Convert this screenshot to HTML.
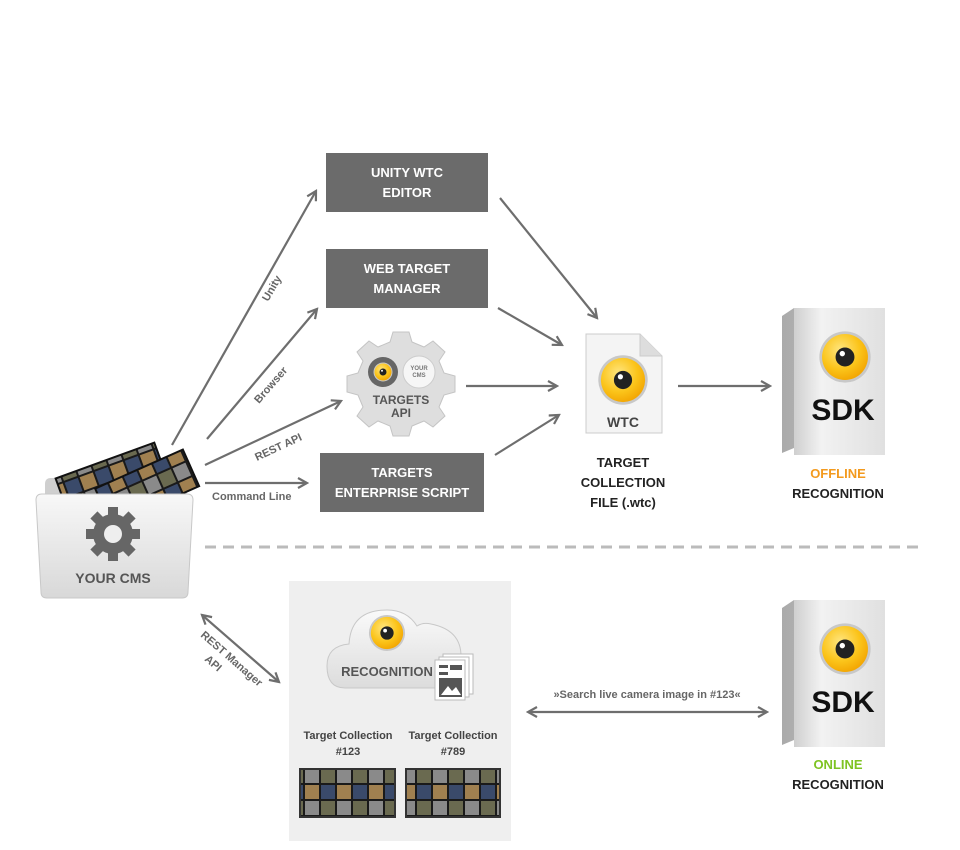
<!DOCTYPE html>
<html><head><meta charset="utf-8"><style>
html,body{margin:0;padding:0;background:#fff;}
svg{display:block;font-family:"Liberation Sans",sans-serif;}
</style></head><body>
<svg width="960" height="850" viewBox="0 0 960 850" xmlns="http://www.w3.org/2000/svg">
<defs>
<marker id="a" viewBox="0 0 12 12" refX="10" refY="6" markerWidth="12" markerHeight="12" markerUnits="userSpaceOnUse" orient="auto-start-reverse">
<path d="M1,1 L10,6 L1,11" fill="none" stroke="#6e6e6e" stroke-width="2.2"/>
</marker>
<linearGradient id="gbox" x1="0" y1="0" x2="1" y2="0"><stop offset="0" stop-color="#cfcfcf"/><stop offset="0.3" stop-color="#f2f2f2"/><stop offset="1" stop-color="#e0e0e0"/></linearGradient>
<linearGradient id="gside" x1="0" y1="0" x2="1" y2="0"><stop offset="0" stop-color="#aaa"/><stop offset="1" stop-color="#ccc"/></linearGradient>
<radialGradient id="gy" cx="0.4" cy="0.35" r="0.7"><stop offset="0" stop-color="#ffe680"/><stop offset="0.6" stop-color="#fbc41a"/><stop offset="1" stop-color="#f2a300"/></radialGradient>
<linearGradient id="gfold" x1="0" y1="0" x2="0" y2="1"><stop offset="0" stop-color="#f8f8f8"/><stop offset="1" stop-color="#d8d8d8"/></linearGradient>
<linearGradient id="gcloud" x1="0" y1="0" x2="0" y2="1"><stop offset="0" stop-color="#fafafa"/><stop offset="1" stop-color="#dcdcdc"/></linearGradient>
<symbol id="eye" viewBox="-20 -20 40 40">
<circle r="19" fill="#c8c8c8"/><circle r="17" fill="url(#gy)"/><circle r="7" fill="#222"/><circle cx="-2" cy="-2.5" r="2" fill="#fff"/>
</symbol>
<pattern id="pics" width="32" height="32" patternUnits="userSpaceOnUse">
<rect width="32" height="32" fill="#1a1a1a"/>
<rect x="1" y="1" width="14" height="14" fill="#6a6a50"/><rect x="17" y="1" width="14" height="14" fill="#8a8a8a"/>
<rect x="1" y="17" width="14" height="14" fill="#3a4a6a"/><rect x="17" y="17" width="14" height="14" fill="#a08050"/>
</pattern>
</defs>

<rect x="326" y="153" width="162" height="59" fill="#6b6b6b"/>
<text x="407" y="177" fill="#fff" font-size="13" font-weight="bold" text-anchor="middle">UNITY WTC</text>
<text x="407" y="197" fill="#fff" font-size="13" font-weight="bold" text-anchor="middle">EDITOR</text>
<rect x="326" y="249" width="162" height="59" fill="#6b6b6b"/>
<text x="407" y="273" fill="#fff" font-size="13" font-weight="bold" text-anchor="middle">WEB TARGET</text>
<text x="407" y="293" fill="#fff" font-size="13" font-weight="bold" text-anchor="middle">MANAGER</text>
<rect x="320" y="453" width="164" height="59" fill="#6b6b6b"/>
<text x="402" y="477" fill="#fff" font-size="13" font-weight="bold" text-anchor="middle">TARGETS</text>
<text x="402" y="497" fill="#fff" font-size="13" font-weight="bold" text-anchor="middle">ENTERPRISE SCRIPT</text>

<g stroke="#6e6e6e" stroke-width="2.2" fill="none" marker-end="url(#a)">
<line x1="172" y1="445" x2="316" y2="191"/>
<line x1="207" y1="439" x2="317" y2="309"/>
<line x1="205" y1="465" x2="341" y2="401"/>
<line x1="205" y1="483" x2="307" y2="483"/>
<line x1="500" y1="198" x2="597" y2="318"/>
<line x1="498" y1="308" x2="562" y2="345"/>
<line x1="466" y1="386" x2="557" y2="386"/>
<line x1="495" y1="455" x2="559" y2="415"/>
<line x1="678" y1="386" x2="770" y2="386"/>
<line x1="202" y1="615" x2="279" y2="682" marker-start="url(#a)"/>
<line x1="528" y1="712" x2="767" y2="712" marker-start="url(#a)"/>
</g>
<g fill="#666" font-size="11" font-weight="bold">
<text transform="translate(268,302) rotate(-60)">Unity</text>
<text transform="translate(259,404) rotate(-49)">Browser</text>
<text transform="translate(257,461) rotate(-25)">REST API</text>
<text x="212" y="500">Command Line</text>
<text transform="translate(200,636) rotate(41)">REST Manager</text>
<text transform="translate(204,660) rotate(41)">API</text>
<text x="647" y="698" text-anchor="middle">»Search live camera image in #123«</text>
</g>

<g transform="translate(401,384)">
<path d="M-8,-52 h16 l3,10 l12,5 l9,-6 l12,11 l-6,9 l5,12 l11,3 v16 l-11,3 l-5,12 l6,9 l-12,11 l-9,-6 l-12,5 l-3,10 h-16 l-3,-10 l-12,-5 l-9,6 l-12,-11 l6,-9 l-5,-12 l-11,-3 v-16 l11,-3 l5,-12 l-6,-9 l12,-11 l9,6 l12,-5z" fill="#dedede" stroke="#c4c4c4"/>
<circle cx="-18" cy="-12" r="15" fill="#666"/><use href="#eye" x="-28" y="-22" width="20" height="20"/>
<circle cx="18" cy="-12" r="16" fill="#f6f6f6" stroke="#ccc"/>
<text x="18" y="-14" font-size="6" fill="#777" text-anchor="middle" font-weight="bold">YOUR</text>
<text x="18" y="-7" font-size="6" fill="#777" text-anchor="middle" font-weight="bold">CMS</text>
<text x="0" y="20" font-size="12" fill="#555" text-anchor="middle" font-weight="bold">TARGETS</text>
<text x="0" y="33" font-size="12" fill="#555" text-anchor="middle" font-weight="bold">API</text>
</g>

<path d="M586,334 h54 l22,22 v77 h-76z" fill="#f4f4f4" stroke="#ccc"/>
<path d="M640,334 v22 h22" fill="#ddd" stroke="#ccc"/>
<use href="#eye" x="597" y="354" width="52" height="52"/>
<text x="623" y="427" font-size="14" fill="#444" text-anchor="middle" font-weight="bold">WTC</text>
<g fill="#222" font-size="13" font-weight="bold" text-anchor="middle">
<text x="623" y="467">TARGET</text><text x="623" y="487">COLLECTION</text><text x="623" y="507">FILE (.wtc)</text>
</g>

<g id="sdk">
<path d="M782,316 l12,-8 h91 v140 l-91,0 l-12,5z" fill="url(#gside)"/>
<rect x="794" y="308" width="91" height="147" fill="url(#gbox)"/>
<use href="#eye" x="818" y="330" width="54" height="54"/>
<text x="843" y="420" font-size="30" fill="#111" text-anchor="middle" font-weight="bold">SDK</text>
</g>
<text x="838" y="478" font-size="13" fill="#f39a1e" text-anchor="middle" font-weight="bold">OFFLINE</text>
<text x="838" y="498" font-size="13" fill="#222" text-anchor="middle" font-weight="bold">RECOGNITION</text>
<use href="#sdk" y="292"/>
<text x="838" y="769" font-size="13" fill="#7ec322" text-anchor="middle" font-weight="bold">ONLINE</text>
<text x="838" y="789" font-size="13" fill="#222" text-anchor="middle" font-weight="bold">RECOGNITION</text>

<line x1="205" y1="547" x2="920" y2="547" stroke="#bbb" stroke-width="3" stroke-dasharray="11,7"/>

<path d="M45,484 q0,-6 6,-6 h30 l6,-4 h94 q6,0 6,6 v110 h-142z" fill="#cfcfcf"/>
<g transform="rotate(-20 115 475)"><rect x="58" y="458" width="105" height="40" fill="url(#pics)" stroke="#111" stroke-width="2"/></g>
<g transform="rotate(-24 145 485)"><rect x="98" y="468" width="96" height="40" fill="url(#pics)" stroke="#111" stroke-width="2"/></g>
<path d="M36,500 q0,-6 6,-6 h145 q6,0 6,6 l-5,92 q0,6 -6,6 h-135 q-6,0 -6,-6z" fill="url(#gfold)" stroke="#c8c8c8"/>
<g transform="translate(113,534)" fill="#666">
<circle r="20"/>
<g id="t"><rect x="-5" y="-27" width="10" height="10"/></g>
<use href="#t" transform="rotate(45)"/><use href="#t" transform="rotate(90)"/><use href="#t" transform="rotate(135)"/><use href="#t" transform="rotate(180)"/><use href="#t" transform="rotate(225)"/><use href="#t" transform="rotate(270)"/><use href="#t" transform="rotate(315)"/>
<circle r="9" fill="#eee"/>
</g>
<text x="113" y="583" font-size="14" fill="#555" text-anchor="middle" font-weight="bold">YOUR CMS</text>

<rect x="289" y="581" width="222" height="260" fill="#efefef"/>
<path d="M345,688 q-18,0 -18,-22 q0,-20 22,-22 q2,-34 38,-34 q20,0 30,16 q6,-4 14,-2 q30,6 30,32 q12,6 10,22 q-2,10 -12,10z" fill="url(#gcloud)" stroke="#c8c8c8"/>
<use href="#eye" x="368" y="614" width="38" height="38"/>
<text x="387" y="676" font-size="13" fill="#555" text-anchor="middle" font-weight="bold">RECOGNITION</text>
<rect x="443" y="654" width="30" height="40" fill="#fff" stroke="#bbb"/>
<rect x="439" y="657" width="30" height="40" fill="#fff" stroke="#bbb"/>
<rect x="435" y="660" width="30" height="40" fill="#fff" stroke="#bbb"/>
<rect x="439" y="665" width="9" height="3" fill="#555"/><rect x="450" y="665" width="12" height="5" fill="#555"/>
<rect x="439" y="672" width="9" height="3" fill="#555"/>
<rect x="439" y="678" width="23" height="19" fill="#555"/>
<path d="M441,695 l7,-9 l4,5 l4,-4 l5,8z" fill="#fff"/>
<g fill="#444" font-size="11" font-weight="bold" text-anchor="middle">
<text x="348" y="739">Target Collection</text><text x="348" y="755">#123</text>
<text x="453" y="739">Target Collection</text><text x="453" y="755">#789</text>
</g>
<rect x="300" y="769" width="95" height="48" fill="url(#pics)" stroke="#333" stroke-width="2"/>
<rect x="406" y="769" width="94" height="48" fill="url(#pics)" stroke="#333" stroke-width="2"/>
</svg>
</body></html>
